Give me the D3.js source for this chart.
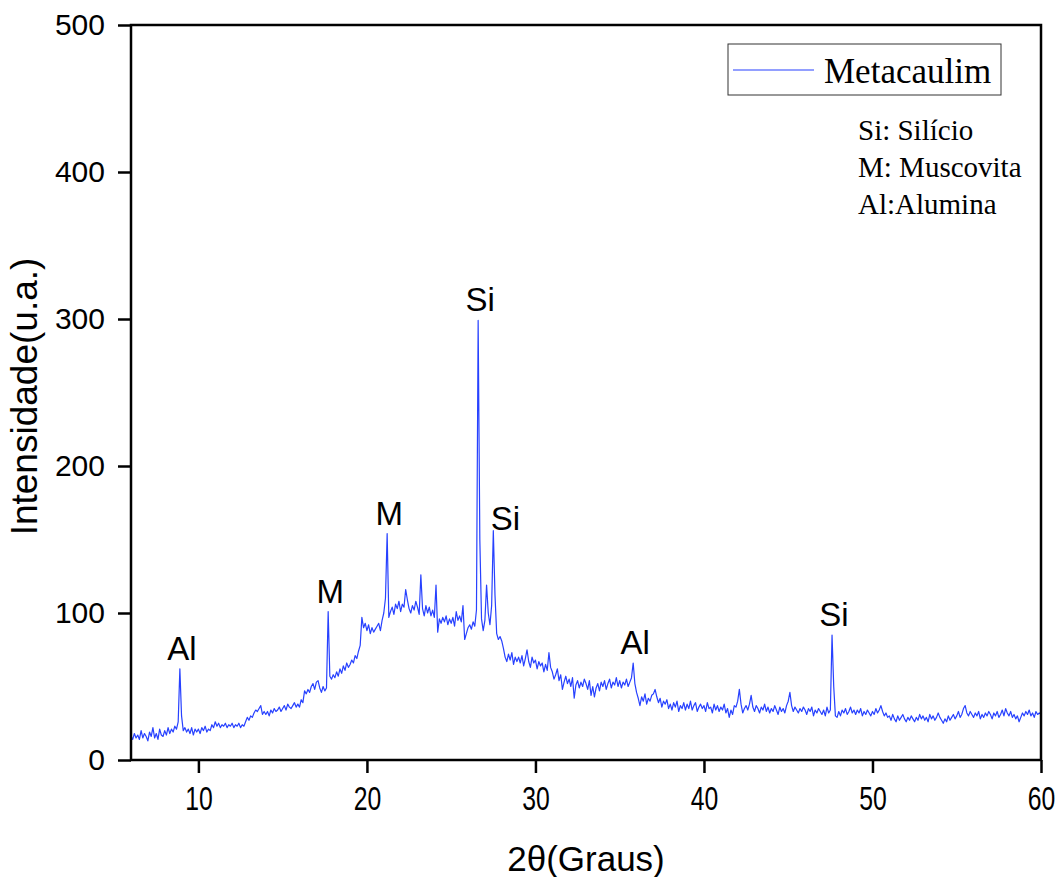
<!DOCTYPE html>
<html>
<head>
<meta charset="utf-8">
<script src="https://cdn.jsdelivr.net/npm/d3@7"></script>
<style>
  body { margin: 0; background: #fff; }
</style>
</head>
<body>
<script>
// XRD pattern of metakaolin, 2theta from 6 to 60 deg, step 0.1
const startAngle = 6
const stepAngle = 0.1
const intensity = [
  16,14,18,15,17,14,20,15,18,16,
  13,19,16,22,15,18,14,21,17,16,
  20,17,22,18,21,19,23,21,26,62,
  30,20,22,19,21,18,22,17,21,19,
  21,18,22,20,23,19,21,20,24,22,
  26,23,25,22,24,23,25,22,24,23,
  25,22,24,23,25,22,24,23,26,29,
  27,30,29,32,34,33,35,37,31,33,
  31,33,30,34,32,35,33,34,36,33,
  35,37,34,38,36,35,37,39,36,38,
  36,41,39,47,45,48,46,50,52,48,
  53,54,49,46,50,47,49,101,57,55,
  58,56,60,57,62,59,64,61,66,63,
  65,68,66,71,69,74,78,97,90,93,
  88,92,86,90,87,89,91,93,88,95,
  100,110,154,97,101,104,99,106,103,108,
  101,106,104,116,109,103,100,105,102,108,
  104,99,126,103,98,105,100,104,98,102,
  97,119,87,96,93,97,94,98,92,96,
  93,97,91,101,95,98,94,105,82,86,
  90,92,89,94,91,102,299,150,96,88,
  95,119,100,92,105,156,112,86,82,84,
  81,76,70,67,72,68,73,65,70,67,
  70,66,71,64,69,75,67,63,70,66,
  68,62,67,64,66,60,65,61,73,63,
  60,55,58,62,54,58,48,53,57,52,
  55,50,56,42,51,54,49,53,50,55,
  52,48,54,44,50,43,49,52,47,53,
  50,54,48,52,55,49,53,51,56,50,
  54,49,53,51,55,50,53,56,66,52,
  46,42,37,43,40,45,38,42,40,44,
  45,48,43,39,42,36,40,38,41,35,
  38,34,39,36,40,33,37,35,39,34,
  38,35,40,34,37,39,33,36,38,35,
  37,33,39,35,36,32,38,34,37,33,
  36,34,38,32,35,29,34,31,37,36,
  40,48,38,32,35,37,34,38,44,36,
  33,37,35,32,36,34,38,33,36,32,
  35,33,37,34,31,36,33,35,32,37,
  40,46,37,33,36,34,32,35,33,36,
  34,31,35,33,36,30,34,32,35,33,
  31,34,30,36,32,34,85,50,30,29,
  33,30,34,32,35,31,33,36,32,34,
  31,34,32,35,30,33,31,34,32,30,
  33,31,35,32,34,37,33,30,32,29,
  30,27,31,28,26,30,27,29,31,28,
  26,29,27,30,28,26,29,27,31,28,
  30,27,29,26,31,28,30,27,29,32,
  29,27,25,28,26,30,27,29,31,28,
  30,33,29,31,35,37,32,30,33,31,
  29,32,30,33,28,31,29,32,30,33,
  31,28,32,30,33,29,31,34,30,35,
  32,30,33,29,31,28,30,26,29,32,
  30,33,31,34,30,32,29,33,31,32,
  31
]

const xTicks = [10, 20, 30, 40, 50, 60]
const yTicks = [0, 100, 200, 300, 400, 500]

// identified phases
const peakAngles = [8.9, 17.7, 21.2, 26.6, 27.5, 35.8, 47.6]
const peakNames = ["Al", "M", "M", "Si", "Si", "Al", "Si"]

const seriesName = "Metacaulim"
const phaseNotes = ["Si: Silício", "M: Muscovita", "Al:Alumina"]

let width = 1060,
    height = 877
let margin = {top: 25, right: 19, bottom: 117, left: 131}

let svg = d3.select("body").append("svg")
    .attr("width", width)
    .attr("height", height)

let x = d3.scaleLinear()
    .domain([6, 60])
    .range([margin.left, width - margin.right])

let y = d3.scaleLinear()
    .domain([0, 500])
    .range([height - margin.bottom, margin.top])

let points = intensity.map((v, i) => [startAngle + i * stepAngle, v])

let sans = "'Liberation Sans', Arial, sans-serif"
let serif = "'Liberation Serif', 'Times New Roman', serif"
let blue = "#2741ff"

// the pattern itself
svg.append("path")
    .datum(points)
    .attr("fill", "none")
    .attr("stroke", blue)
    .attr("stroke-width", 1.2)
    .attr("stroke-linejoin", "round")
    .attr("d", d3.line().x(d => x(d[0])).y(d => y(d[1])))

// frame
svg.append("rect")
    .attr("x", x(6))
    .attr("y", y(500))
    .attr("width", x(60) - x(6))
    .attr("height", y(0) - y(500))
    .attr("fill", "none")
    .attr("stroke", "#000")
    .attr("stroke-width", 2.5)

// axes
let xAxis = svg.append("g")
    .attr("transform", `translate(0,${y(0)})`)
    .call(d3.axisBottom(x).tickValues(xTicks).tickSize(13).tickPadding(14))
let yAxis = svg.append("g")
    .attr("transform", `translate(${x(6)},0)`)
    .call(d3.axisLeft(y).tickValues(yTicks).tickSize(13).tickPadding(13))

for (let ax of [xAxis, yAxis]) {
    ax.select(".domain").remove()
    ax.selectAll(".tick line").attr("stroke", "#000").attr("stroke-width", 2.5)
    ax.selectAll("text").attr("fill", "#000").style("font-family", sans)
}
xAxis.selectAll("text")
    .style("font-size", "33px")
    .attr("transform", "scale(0.75,1)")
    .attr("x", 0)
yAxis.selectAll("text").style("font-size", "30px")

// axis titles
svg.append("text")
    .attr("x", x(33))
    .attr("y", 871)
    .attr("text-anchor", "middle")
    .style("font-family", sans)
    .style("font-size", "35px")
    .text("2θ(Graus)")

svg.append("text")
    .attr("transform", `translate(37,${(y(0) + y(500)) / 2 + 4}) rotate(-90)`)
    .attr("text-anchor", "middle")
    .style("font-family", sans)
    .style("font-size", "37px")
    .text("Intensidade(u.a.)")

// peak labels
peakAngles.forEach((a, i) => {
    let idx = Math.round((a - startAngle) / stepAngle)
    let side = peakNames[i] === "Si" && a > 27 && a < 28
    svg.append("text")
        .attr("x", x(a) + (side ? 12 : 2))
        .attr("y", y(intensity[idx]) - (side ? 1 : 9))
        .attr("text-anchor", "middle")
        .style("font-family", sans)
        .style("font-size", "33px")
        .text(peakNames[i])
})

// legend
let legend = svg.append("g")
legend.append("rect")
    .attr("x", 728).attr("y", 44)
    .attr("width", 273).attr("height", 51)
    .attr("fill", "#fff")
    .attr("stroke", "#333")
    .attr("stroke-width", 1)
legend.append("line")
    .attr("x1", 733).attr("x2", 814)
    .attr("y1", 70).attr("y2", 70)
    .attr("stroke", blue)
    .attr("stroke-width", 1.2)
legend.append("text")
    .attr("x", 824).attr("y", 83)
    .style("font-family", serif)
    .style("font-size", "35px")
    .text(seriesName)

phaseNotes.forEach((n, i) => {
    svg.append("text")
        .attr("x", 858)
        .attr("y", 140 + i * 37)
        .style("font-family", serif)
        .style("font-size", "29px")
        .text(n)
})
</script>
</body>
</html>
